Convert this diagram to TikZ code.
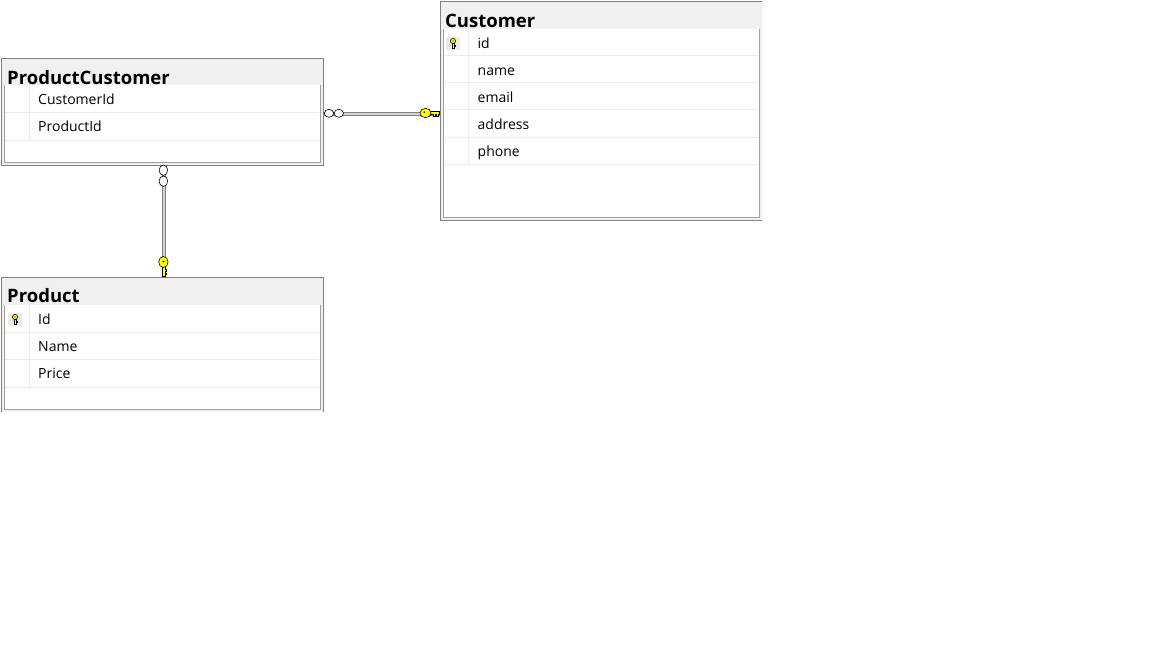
\documentclass[tikz,border=0pt]{standalone}
\usepackage{fontspec}
\setmainfont{Open Sans}
\definecolor{band}{HTML}{F0F0F0}
\definecolor{outerc}{HTML}{828282}
\definecolor{innerc}{HTML}{A0A0A0}
\definecolor{sepc}{HTML}{EBEBEB}
\definecolor{keyy}{HTML}{FFFF00}
\definecolor{connc}{HTML}{7F7F7F}
\definecolor{connin}{HTML}{D4D4D4}
\tikzset{
  tablebox/.style={draw=outerc, fill=band, line width=1pt, inner sep=0pt, anchor=north west, rectangle},
  ttl/.style={anchor=base west, inner sep=0pt, font=\fontsize{18.5}{18.5}\selectfont\bfseries},
  fld/.style={anchor=base west, inner sep=0pt, font=\fontsize{14}{14}\selectfont},
  sepline/.style={draw=sepc, line width=1pt},
  innerline/.style={draw=innerc, line width=1pt},
  conn/.style={draw=connc, line width=0.9pt, double=connin, double distance=1.8pt},
  many/.style={draw=black, fill=white, line width=0.6pt},
  keyshape/.style={draw=black, fill=keyy, line width=0.6pt},
}
\newcommand{\rowkeyicon}[2]{%
  \fill[sepc] (#1,#2) rectangle ++(14,13);
  \filldraw[keyshape] (#1+7,#2+4) circle (2.6);
  \filldraw[keyshape] (#1+6,#2+6.5) -- (#1+8,#2+6.5) -- (#1+8,#2+8) -- (#1+9.5,#2+8) -- (#1+9.5,#2+9.5) -- (#1+8,#2+9.5) -- (#1+8,#2+11.5) -- (#1+6,#2+11.5) -- cycle;
  \fill[black] (#1+7,#2+4) circle (0.6);
}
\begin{document}
\begin{tikzpicture}[x=1pt,y=-1pt]
\useasboundingbox[fill=white] (0,0) rectangle (1152,648);
\begin{scope}
\clip (0,0) rectangle (762,411);
% ---- ProductCustomer
\node[tablebox, minimum width=322pt, minimum height=107pt] (pc) at (0.5,57.5) {};
\fill[white] (4,85) rectangle (320,162);
\draw[sepline] (5,112.5) -- (319,112.5);
\draw[sepline] (5,140) -- (319,140);
\draw[sepline] (29.5,85) -- (29.5,140);
\draw[innerline] (4,85) -- (4,162) -- (320,162) -- (320,85);
\node[ttl] (pct) at (7,84) {ProductCustomer};
\node[fld] (pc1) at (38,104) {CustomerId};
\node[fld] (pc2) at (38,131.5) {ProductId};
% ---- Customer
\node[tablebox, minimum width=330pt, minimum height=219pt] (cu) at (439.5,0.5) {};
\fill[white] (443,29) rectangle (759,217);
\foreach \yy in {55,82.5,109.5,137,164.5} { \draw[sepline] (444,\yy) -- (758,\yy); }
\draw[sepline] (468.5,29) -- (468.5,164.5);
\draw[innerline] (443,29) -- (443,217) -- (759,217) -- (759,29);
\node[ttl] (cut) at (445,27) {Customer};
\rowkeyicon{446}{37}
\node[fld] (cu1) at (477.5,48) {id};
\node[fld] (cu2) at (477.5,75) {name};
\node[fld] (cu3) at (477.5,102) {email};
\node[fld] (cu4) at (477.5,129) {address};
\node[fld] (cu5) at (477.5,156.5) {phone};
% ---- Product
\node[tablebox, minimum width=322pt, minimum height=145pt] (pr) at (0.5,276.5) {};
\fill[white] (4,305) rectangle (320,409);
\foreach \yy in {332,359.5,387} { \draw[sepline] (5,\yy) -- (319,\yy); }
\draw[sepline] (29.5,305) -- (29.5,387);
\draw[innerline] (4,305) -- (4,409) -- (320,409) -- (320,305);
\node[ttl] (prt) at (7,302.5) {Product};
\rowkeyicon{8}{313}
\node[fld] (pr1) at (38,324) {Id};
\node[fld] (pr2) at (38,351) {Name};
\node[fld] (pr3) at (38,378.5) {Price};
\end{scope}
% ---- connector ProductCustomer -> Customer
\draw[conn] ([yshift=-2.5pt]pc.east) -- ([yshift=-3.5pt]cu.west);
\draw[many] (329,113.3) ellipse (4.7 and 4);
\draw[many] (338.8,113.3) ellipse (4.7 and 4);
\filldraw[keyshape] (430,111.5) -- (439.5,111.5) -- (439.5,114.5) -- (438,114.5) -- (438,116) -- (436.3,116) -- (436.3,114.5) -- (434.8,114.5) -- (434.8,116) -- (433,116) -- (433,114.5) -- (430,114.5) -- cycle;
\filldraw[keyshape] (425.5,113) ellipse (5.5 and 4.7);
\fill[black] (424.3,112.2) circle (0.9);
% ---- connector ProductCustomer -> Product
\draw[conn] ([xshift=2pt]pc.south) -- ([xshift=2pt]pr.north);
\draw[many] (163.4,170.2) ellipse (4.3 and 5.2);
\draw[many] (163.4,181.2) ellipse (4.3 and 5.2);
\filldraw[keyshape] (161.8,266) -- (161.8,276) -- (165,276) -- (165,274.5) -- (166.6,274.5) -- (166.6,272.8) -- (165,272.8) -- (165,271.2) -- (166.6,271.2) -- (166.6,269.5) -- (165,269.5) -- (165,266) -- cycle;
\filldraw[keyshape] (163.4,262) ellipse (4.7 and 5.5);
\fill[black] (163.4,261.5) circle (0.9);
\end{tikzpicture}
\end{document}
